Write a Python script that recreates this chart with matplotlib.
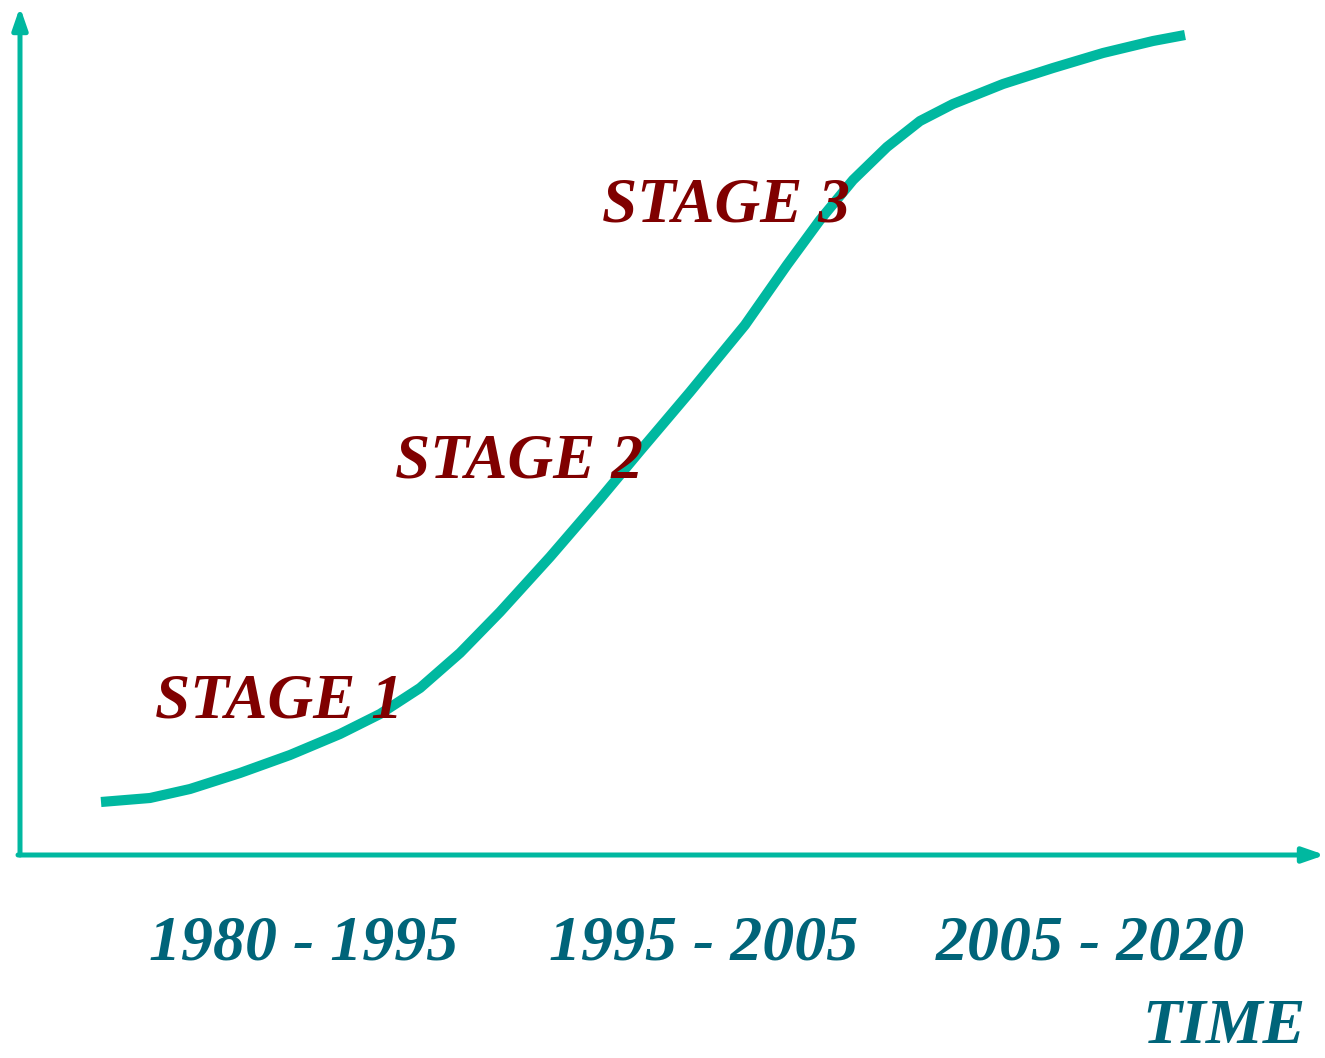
import numpy as np
import matplotlib.pyplot as plt

# S-curve (x: time units, y: level units)
curve_x = [81, 130, 170, 220, 270, 320, 360, 400, 440, 480, 530, 580, 620, 670,
           725, 767, 800, 833, 867, 900, 933, 983, 1033, 1083, 1133, 1165]
curve_y = [53, 57, 66, 82, 100, 121, 141, 167, 202, 243, 298, 356, 404, 463,
           530, 590, 635, 675, 708, 734, 751, 771, 787, 802, 814, 820]

stage_labels = ['STAGE 1', 'STAGE 2', 'STAGE 3']
stage_x = [135, 375, 582]
stage_y = [137, 377, 634]

period_labels = ['1980 - 1995', '1995 - 2005', '2005 - 2020']
period_x = [284, 684, 1070]
axis_title = 'TIME'

teal = '#00B8A0'
red = '#800000'
blue = '#006479'

fig = plt.figure(figsize=(13.25, 10.58), dpi=100)
ax = fig.add_axes([0, 0, 1, 1])
ax.set_xlim(-20, 1305)
ax.set_ylim(-203, 855)
ax.axis('off')

# axes with arrow heads
arrow = dict(arrowstyle='-|>,head_length=1.3,head_width=0.45', color=teal, lw=3.6,
             shrinkA=0, shrinkB=0)
ax.annotate('', xy=(0, 848), xytext=(0, 0), arrowprops=arrow)
ax.annotate('', xy=(1305, 0), xytext=(-2, 0), arrowprops=arrow)

ax.plot(curve_x, curve_y, color=teal, lw=7.3, solid_capstyle='butt',
        solid_joinstyle='round')

font = dict(family='Liberation Serif', weight='bold', style='italic')
for lab, x, y in zip(stage_labels, stage_x, stage_y):
    ax.text(x, y, lab, color=red, fontsize=45.5, ha='left', va='baseline', **font)

for lab, x in zip(period_labels, period_x):
    ax.text(x, -105, lab, color=blue, fontsize=46, ha='center', va='baseline', **font)

ax.text(1286, -188, axis_title, color=blue, fontsize=46, ha='right', va='baseline', **font)

fig.savefig('out.png', dpi=100)
